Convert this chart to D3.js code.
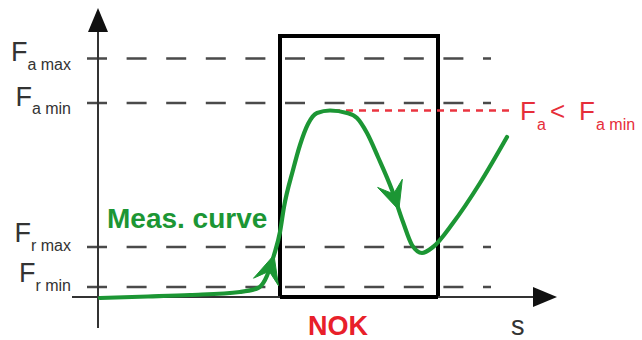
<!DOCTYPE html>
<html><head><meta charset="utf-8">
<script src="https://cdn.jsdelivr.net/npm/d3@7"></script>
<style>
body{margin:0;background:#fff}
svg{display:block}
text{font-family:"Liberation Sans",Arial,Helvetica,sans-serif}
</style>
</head><body>
<svg id="c" width="642" height="340"></svg>
<script>
// ---- data ----
const thresholdSubs = ["a max", "a min", "r max", "r min"];
const thresholdValues = [238.5, 194, 50, 10];
const curveS = [2, 50, 92, 142, 160, 167, 176, 182, 186, 195, 202, 210, 219, 232, 249, 259, 269, 280, 294, 305, 314, 324, 335, 355, 382, 409];
const curveF = [-1, 0.5, 2, 5, 9, 17, 42, 65, 90, 127, 152, 173, 184, 186.5, 184, 179, 164, 140, 107, 75, 52, 44, 50, 74, 114, 160];
const nokWindowS = [182, 340];
const nokWindowTop = 261;
const limitLineS = [235, 414];
const limitLineF = 186.5;
const arrowTipF = [42, 87];   // arrows on rising / falling branch
const xLabel = "s";
const curveLabel = "Meas. curve";
const nokLabel = "NOK";

// ---- scales ----
const x = d3.scaleLinear().domain([0, 459]).range([98, 557]);
const y = d3.scaleLinear().domain([0, 289]).range([297, 8]);

const svg = d3.select("#c");
const GREEN = "#1c9634", RED = "#e8202a", GRAY = "#333";

// dashed threshold lines
svg.append("g").selectAll("line").data(thresholdValues).join("line")
  .attr("x1", x(-11)).attr("x2", x(393))
  .attr("y1", d => y(d)).attr("y2", d => y(d))
  .attr("stroke", "#4a4a4a").attr("stroke-width", 2.5)
  .attr("stroke-dasharray", "20,19.6");

// NOK window
svg.append("path")
  .attr("d", `M${x(nokWindowS[0])},${y(0)}V${y(nokWindowTop)}H${x(nokWindowS[1])}V${y(0)}`)
  .attr("fill", "none").attr("stroke", "#000").attr("stroke-width", 4);

// axes
svg.append("line").attr("x1", x(0)).attr("x2", x(0)).attr("y1", y(-31)).attr("y2", y(265))
  .attr("stroke", GRAY).attr("stroke-width", 2);
svg.append("line").attr("x1", x(-26)).attr("x2", x(436)).attr("y1", y(0)).attr("y2", y(0))
  .attr("stroke", GRAY).attr("stroke-width", 2.2);
svg.append("line").attr("x1", x(nokWindowS[0])).attr("x2", x(nokWindowS[1])).attr("y1", y(0)).attr("y2", y(0))
  .attr("stroke", "#000").attr("stroke-width", 4);
// arrowheads of axes
svg.append("path").attr("d", `M${x(0)},${y(289)}L${x(0)-10},${y(265)}L${x(0)+10},${y(265)}Z`).attr("fill", "#111");
svg.append("path").attr("d", `M${x(459)},${y(0)}L${x(435)},${y(0)-10}L${x(435)},${y(0)+10}Z`).attr("fill", "#111");

// red limit line
svg.append("line").attr("x1", x(limitLineS[0])).attr("x2", x(limitLineS[1]))
  .attr("y1", y(limitLineF)).attr("y2", y(limitLineF))
  .attr("stroke", "#ea3440").attr("stroke-width", 2.4).attr("stroke-dasharray", "7,6");

// measurement curve
const pts = curveS.map((s, i) => [x(s), y(curveF[i])]);
const line = d3.line().curve(d3.curveMonotoneX);
const path = svg.append("path").attr("d", line(pts))
  .attr("fill", "none").attr("stroke", GREEN).attr("stroke-width", 4.2)
  .attr("stroke-linecap", "round").attr("stroke-linejoin", "round");

// arrowheads on the curve
const node = path.node();
const total = node.getTotalLength();
const peakLen = (() => { let best = 0, by = 1e9; for (let l = 0; l <= total; l += 1) { const p = node.getPointAtLength(l); if (p.y < by) { by = p.y; best = l; } } return best; })();
function lenAtLevel(level, from, to) {
  const target = y(level);
  let best = from, bd = 1e9;
  for (let l = from; l <= to; l += 0.5) { const p = node.getPointAtLength(l); const d = Math.abs(p.y - target); if (d < bd) { bd = d; best = l; } }
  return best;
}
const tipLens = [lenAtLevel(arrowTipF[0], 0, peakLen), lenAtLevel(arrowTipF[1], peakLen, total * 0.8)];
const L = 28, W = 13, N = 0.6;
tipLens.forEach(len => {
  const p = node.getPointAtLength(len), q = node.getPointAtLength(len - 4);
  let ux = p.x - q.x, uy = p.y - q.y; const m = Math.hypot(ux, uy); ux /= m; uy /= m;
  const nx = -uy, ny = ux;
  const w1 = [p.x - L*ux + W*nx, p.y - L*uy + W*ny];
  const w2 = [p.x - L*ux - W*nx, p.y - L*uy - W*ny];
  const nn = [p.x - N*L*ux, p.y - N*L*uy];
  svg.append("path").attr("d", `M${p.x},${p.y}L${w1}L${nn}L${w2}Z`).attr("fill", GREEN)
    .attr("stroke", GREEN).attr("stroke-width", 1).attr("stroke-linejoin", "round");
});

// threshold labels
const lab = svg.append("g").attr("fill", GRAY);
thresholdSubs.forEach((sub, i) => {
  const base = y(thresholdValues[i]) + (sub[0] === "a" ? 2.5 : -5);
  const t = lab.append("text").attr("x", 71).attr("y", base).attr("text-anchor", "end");
  t.append("tspan").attr("font-size", 27).text("F");
  t.append("tspan").attr("font-size", 16).attr("dy", 8.5).text(sub);
});

// limit annotation
const ry = y(limitLineF) + 9.5;
const ann = svg.append("text").attr("fill", "#e62e3a").attr("y", ry);
ann.append("tspan").attr("x", 520).attr("font-size", 26).text("F");
ann.append("tspan").attr("x", 537).attr("font-size", 16).attr("dy", 10).text("a");
ann.append("tspan").attr("x", 550).attr("font-size", 26).attr("dy", -10).text("<");
ann.append("tspan").attr("x", 579).attr("font-size", 26).text("F");
ann.append("tspan").attr("x", 596).attr("font-size", 16).attr("dy", 10).text("a min");

// other labels
svg.append("text").attr("x", x(9)).attr("y", y(69)).attr("fill", GREEN)
  .attr("font-size", 28).attr("font-weight", "bold").text(curveLabel);
svg.append("text").attr("x", 308).attr("y", 335).attr("fill", RED)
  .attr("font-size", 27).attr("font-weight", "bold").text(nokLabel);
svg.append("text").attr("x", 511).attr("y", 335).attr("fill", GRAY)
  .attr("font-size", 27).text(xLabel);
</script>
</body></html>
